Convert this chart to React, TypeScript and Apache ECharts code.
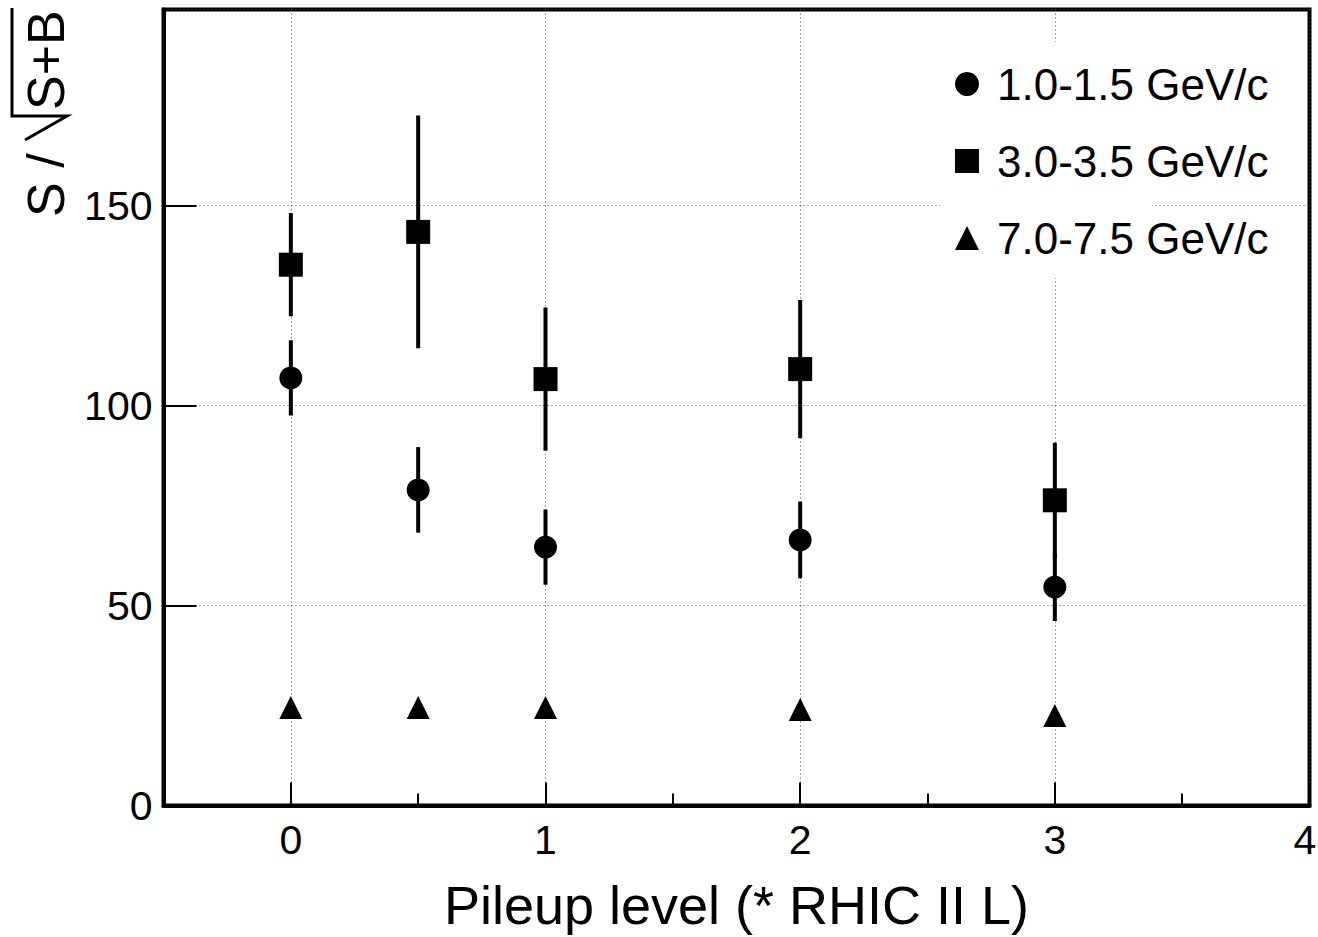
import React, { useEffect, useRef } from "react";
import * as echarts from "echarts";

// ---- data ----
const pileup = [0, 0.5, 1, 2, 3];
const lowPt = [106.9, 78.9, 64.6, 66.4, 54.6];
const lowPtErr = [9.4, 10.7, 9.4, 9.6, 8.5];
const midPt = [135.2, 143.4, 106.6, 109.1, 76.3];
const midPtErr = [12.9, 29.1, 17.9, 17.3, 14.4];
const highPt = [24.5, 24.5, 24.5, 24.0, 22.5];
const seriesNames = ["1.0-1.5 GeV/c", "3.0-3.5 GeV/c", "7.0-7.5 GeV/c"];
const xMajorTicks = [0, 1, 2, 3, 4];
const xMinorTicks = [0.5, 1.5, 2.5, 3.5];
const xTitle = "Pileup level (* RHIC II L)";

const FONT = "'Liberation Sans', Arial, Helvetica, sans-serif";

function errSeries(vals: number[], errs: number[]) {
  return {
    type: "custom",
    silent: true,
    z: 2,
    xAxisIndex: 0,
    yAxisIndex: 0,
    encode: { x: 0, y: 1 },
    data: pileup.map((x, i) => [x, vals[i], errs[i]]),
    renderItem: (params: any, api: any) => {
      const x = api.value(0);
      const y = api.value(1);
      const e = api.value(2);
      const p1 = api.coord([x, y + e]);
      const p2 = api.coord([x, y - e]);
      return {
        type: "line",
        shape: { x1: p1[0], y1: p1[1], x2: p2[0], y2: p2[1] },
        style: { stroke: "#000", lineWidth: 4 },
      };
    },
  };
}

export default function App() {
  const ref = useRef<HTMLDivElement>(null);
  useEffect(() => {
    if (!ref.current) return;
    const chart = echarts.init(ref.current, undefined, { renderer: "svg" });
    const dotted = { color: "#444", width: 1, type: [1, 3] as any };
    const maxX = xMajorTicks[xMajorTicks.length - 1];
    chart.setOption({
      animation: false,
      backgroundColor: "#fff",
      grid: {
        left: 163.5,
        right: 8.5,
        top: 9.5,
        bottom: 131.5,
        containLabel: false,
        outerBoundsMode: "none",
        show: true,
        borderColor: "#000",
        borderWidth: 4,
        backgroundColor: "transparent",
      },
      xAxis: [
        {
          type: "value",
          min: -0.5,
          max: 4,
          position: "bottom",
          name: xTitle,
          nameLocation: "middle",
          nameGap: 72,
          nameTextStyle: { fontSize: 54, color: "#000", fontFamily: FONT },
          axisLine: { show: true, onZero: false, lineStyle: { color: "#000", width: 4 } },
          axisTick: {
            show: true,
            inside: true,
            length: 23,
            customValues: xMajorTicks,
            lineStyle: { color: "#000", width: 2 },
          },
          axisLabel: {
            customValues: xMajorTicks,
            fontSize: 41,
            margin: 14,
            color: "#000",
            fontFamily: FONT,
            formatter: (v: number) => (v === maxX ? "{edge|" + v + "}" : String(v)),
            rich: {
              edge: { fontSize: 41, fontFamily: FONT, color: "#000", padding: [0, 9, 0, 0] },
            },
          },
          splitLine: { show: true, lineStyle: dotted },
        },
        {
          type: "value",
          min: -0.5,
          max: 4,
          position: "bottom",
          axisLine: { show: false, onZero: false },
          axisTick: {
            show: true,
            inside: true,
            length: 12,
            customValues: xMinorTicks,
            lineStyle: { color: "#000", width: 2 },
          },
          axisLabel: { show: false },
          splitLine: { show: false },
        },
      ],
      yAxis: {
        type: "value",
        min: 0,
        max: 199,
        interval: 50,
        axisLine: { show: true, onZero: false, lineStyle: { color: "#000", width: 4 } },
        axisTick: { show: true, inside: true, length: 33, lineStyle: { color: "#000", width: 2 } },
        axisLabel: {
          fontSize: 41,
          margin: 11,
          color: "#000",
          fontFamily: FONT,
          showMaxLabel: false,
          padding: [8, 0, 0, 0],
        },
        splitLine: { show: true, lineStyle: dotted },
      },
      legend: {
        orient: "vertical",
        left: 950,
        top: 57,
        itemWidth: 24,
        itemHeight: 24,
        itemGap: 33,
        selectedMode: false,
        data: [
          { name: seriesNames[0], icon: "circle" },
          { name: seriesNames[1], icon: "rect" },
          { name: seriesNames[2], icon: "triangle" },
        ],
        itemStyle: { opacity: 1 },
        textStyle: {
          fontSize: 44,
          lineHeight: 44,
          color: "#000",
          fontFamily: FONT,
          padding: [0, 0, 0, 13],
        },
      },
      graphic: [
        {
          type: "rect",
          z: 1,
          silent: true,
          shape: { x: 940, y: 42, width: 212, height: 236 },
          style: { fill: "#fff" },
        },
        {
          type: "text",
          x: 46,
          y: 217,
          rotation: Math.PI / 2,
          style: {
            text: "S /",
            fontSize: 52,
            fontFamily: FONT,
            fill: "#000",
            align: "left",
            verticalAlign: "middle",
            textAlign: "left",
            textVerticalAlign: "middle",
          },
        },
        {
          type: "polyline",
          shape: { points: [[25, 140], [67, 116], [12, 116], [12, 8]] },
          style: { stroke: "#000", lineWidth: 3, fill: null },
        },
        {
          type: "text",
          x: 46,
          y: 110,
          rotation: Math.PI / 2,
          style: {
            text: "S+B",
            fontSize: 52,
            fontFamily: FONT,
            fill: "#000",
            align: "left",
            verticalAlign: "middle",
            textAlign: "left",
            textVerticalAlign: "middle",
          },
        },
      ],
      series: [
        errSeries(lowPt, lowPtErr),
        errSeries(midPt, midPtErr),
        {
          name: seriesNames[0],
          type: "scatter",
          symbol: "circle",
          symbolSize: 23,
          z: 3,
          itemStyle: { color: "#000", opacity: 1 },
          data: pileup.map((x, i) => [x, lowPt[i]]),
        },
        {
          name: seriesNames[1],
          type: "scatter",
          symbol: "rect",
          symbolSize: 24,
          z: 3,
          itemStyle: { color: "#000", opacity: 1 },
          data: pileup.map((x, i) => [x, midPt[i]]),
        },
        {
          name: seriesNames[2],
          type: "scatter",
          symbol: "triangle",
          symbolSize: 23,
          z: 3,
          itemStyle: { color: "#000", opacity: 1 },
          data: pileup.map((x, i) => [x, highPt[i]]),
        },
      ],
    });
    return () => chart.dispose();
  }, []);
  return (
    <div
      ref={ref}
      style={{ position: "absolute", left: 0, top: 0, width: 1318, height: 937, background: "#fff" }}
    />
  );
}
